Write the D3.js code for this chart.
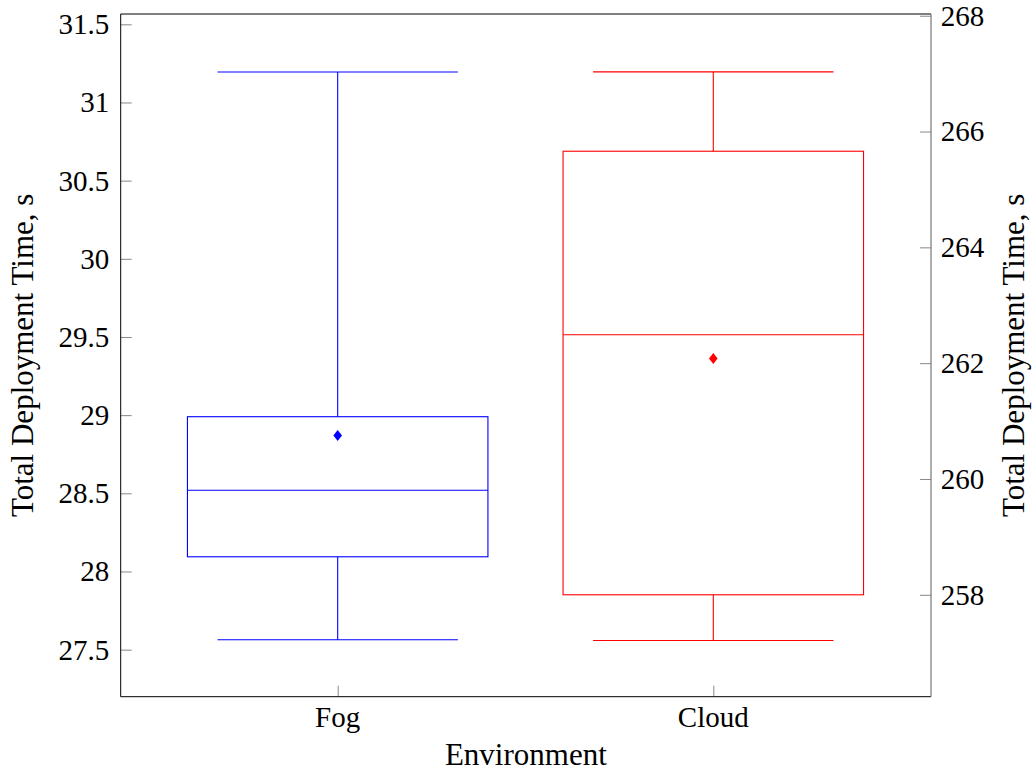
<!DOCTYPE html>
<html>
<head>
<meta charset="utf-8">
<script src="https://cdn.jsdelivr.net/npm/d3@7"></script>
<style>
  html, body { margin: 0; padding: 0; background: #fff; }
  text.lbl { font-family: 'Liberation Serif', 'Times New Roman', serif; fill: #000; }
</style>
</head>
<body>
<svg id="chart" width="1036" height="782"></svg>
<script>
// ---- data ----
const categories = ["Fog", "Cloud"];
const axisSide = ["left", "right"];          // which y axis each box uses
const lowerWhisker = [27.563, 257.21];
const lowerQuartile = [28.094, 258.0];
const median = [28.52, 262.49];
const upperQuartile = [28.99, 265.66];
const upperWhisker = [31.195, 267.03];
const mean = [28.87, 262.08];
const leftTicks = [27.5, 28, 28.5, 29, 29.5, 30, 30.5, 31, 31.5];
const rightTicks = [258, 260, 262, 264, 266, 268];
const leftDomain = [27.199, 31.566];
const rightDomain = [256.24, 268.03];
const xLabel = "Environment";
const yLabel = "Total Deployment Time, s";
const colors = ["#0000ff", "#ff0000"];

// ---- layout ----
const L = 120.7, R = 931, T = 14, B = 696.7;
const svg = d3.select("#chart");
const fs = 29, fsT = 31;

const x = d3.scaleLinear().domain([0.4223, 2.5796]).range([L, R]);
const yL = d3.scaleLinear().domain(leftDomain).range([B, T]);
const yR = d3.scaleLinear().domain(rightDomain).range([B, T]);
const boxW = 0.8, capW = 0.64;

// axes (tick marks from d3 axes, labels as serif text at the scale positions)
const gL = svg.append("g").attr("transform", `translate(${L},0)`)
  .call(d3.axisLeft(yL).tickValues(leftTicks).tickFormat("").tickSizeInner(-11).tickSizeOuter(0));
const gR = svg.append("g").attr("transform", `translate(${R},0)`)
  .call(d3.axisRight(yR).tickValues(rightTicks).tickFormat("").tickSizeInner(-11).tickSizeOuter(0));
const gB = svg.append("g").attr("transform", `translate(0,${B})`)
  .call(d3.axisBottom(x).tickValues(categories.map((c, i) => i + 1)).tickFormat("").tickSizeInner(-11).tickSizeOuter(0));
[gL, gR, gB].forEach(g => {
  g.select(".domain").remove();
  g.selectAll(".tick text").remove();
  g.selectAll(".tick line").attr("stroke", "#888").attr("stroke-width", 1);
});
svg.append("g").selectAll("text").data(leftTicks).join("text").attr("class", "lbl")
  .attr("x", L - 11.4).attr("y", d => yL(d)).attr("dy", "0.34em").attr("text-anchor", "end").attr("font-size", fs).text(d => String(d));
svg.append("g").selectAll("text").data(rightTicks).join("text").attr("class", "lbl")
  .attr("x", R + 9.7).attr("y", d => yR(d)).attr("dy", "0.34em").attr("text-anchor", "start").attr("font-size", fs).text(d => String(d));
svg.append("g").selectAll("text").data(categories).join("text").attr("class", "lbl")
  .attr("x", (d, i) => x(i + 1)).attr("y", 727).attr("text-anchor", "middle").attr("font-size", fs).text(d => d);

// boxes
categories.forEach((c, i) => {
  const y = axisSide[i] === "left" ? yL : yR;
  const cx = x(i + 1);
  const col = colors[i];
  const g = svg.append("g").attr("fill", "none").attr("stroke", col).attr("stroke-width", 1.1);
  g.append("line").attr("x1", cx).attr("x2", cx).attr("y1", y(upperQuartile[i])).attr("y2", y(upperWhisker[i]));
  g.append("line").attr("x1", cx).attr("x2", cx).attr("y1", y(lowerQuartile[i])).attr("y2", y(lowerWhisker[i]));
  g.append("line").attr("x1", x(i + 1 - capW / 2)).attr("x2", x(i + 1 + capW / 2)).attr("y1", y(upperWhisker[i])).attr("y2", y(upperWhisker[i]));
  g.append("line").attr("x1", x(i + 1 - capW / 2)).attr("x2", x(i + 1 + capW / 2)).attr("y1", y(lowerWhisker[i])).attr("y2", y(lowerWhisker[i]));
  g.append("rect").attr("x", x(i + 1 - boxW / 2)).attr("width", x(i + 1 + boxW / 2) - x(i + 1 - boxW / 2))
    .attr("y", y(upperQuartile[i])).attr("height", y(lowerQuartile[i]) - y(upperQuartile[i]));
  g.append("line").attr("x1", x(i + 1 - boxW / 2)).attr("x2", x(i + 1 + boxW / 2)).attr("y1", y(median[i])).attr("y2", y(median[i]));
  const my = y(mean[i]);
  svg.append("path").attr("d", `M${cx},${my - 5.5}L${cx + 4.3},${my}L${cx},${my + 5.5}L${cx - 4.3},${my}Z`)
    .attr("fill", col).attr("stroke", "none");
});

// frame
svg.append("line").attr("x1", L).attr("x2", L).attr("y1", T).attr("y2", B).attr("stroke", "#000");
svg.append("line").attr("x1", L).attr("x2", R).attr("y1", T).attr("y2", T).attr("stroke", "#000");
svg.append("line").attr("x1", L).attr("x2", R).attr("y1", B).attr("y2", B).attr("stroke", "#000");
svg.append("line").attr("x1", R).attr("x2", R).attr("y1", T).attr("y2", B).attr("stroke", "#777").attr("stroke-width", 1.2);

// titles
svg.append("text").attr("class", "lbl").attr("x", (L + R) / 2).attr("y", 765).attr("text-anchor", "middle").attr("font-size", fsT).text(xLabel);
svg.append("text").attr("class", "lbl").attr("transform", `translate(33,${(T + B) / 2}) rotate(-90)`).attr("text-anchor", "middle").attr("font-size", fsT).text(yLabel);
svg.append("text").attr("class", "lbl").attr("transform", `translate(1024,${(T + B) / 2}) rotate(-90)`).attr("text-anchor", "middle").attr("font-size", fsT).text(yLabel);
</script>
</body>
</html>
